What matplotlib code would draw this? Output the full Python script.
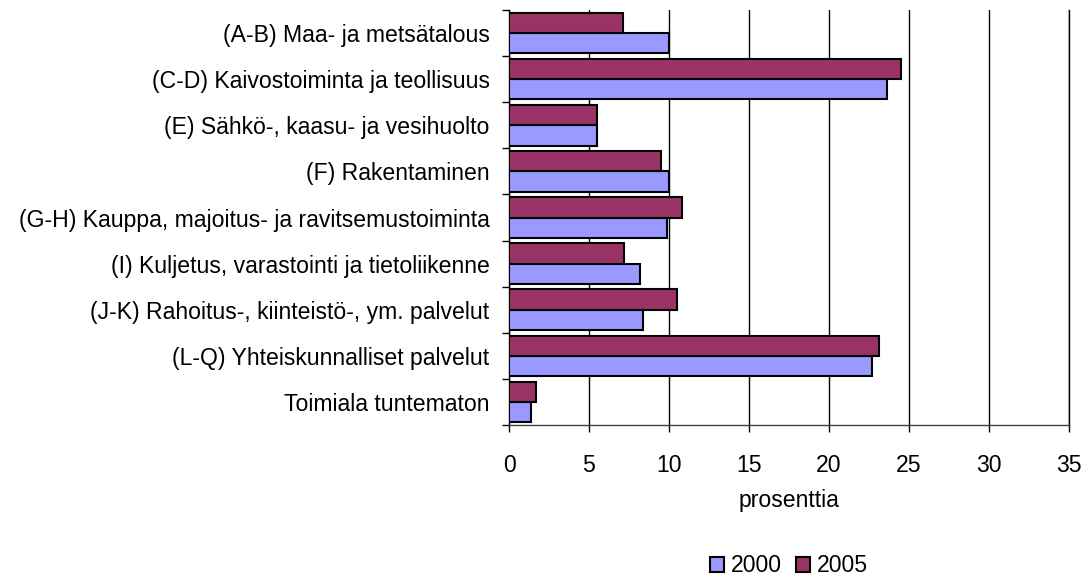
import matplotlib.pyplot as plt
import numpy as np
from matplotlib import rcParams

rcParams.update({"font.family": ["Liberation Sans", "DejaVu Sans"], "font.size": 16.6})

categories = ["(A-B) Maa- ja metsätalous",
              "(C-D) Kaivostoiminta ja teollisuus",
              "(E) Sähkö-, kaasu- ja vesihuolto",
              "(F) Rakentaminen",
              "(G-H) Kauppa, majoitus- ja ravitsemustoiminta",
              "(I) Kuljetus, varastointi ja tietoliikenne",
              "(J-K) Rahoitus-, kiinteistö-, ym. palvelut",
              "(L-Q) Yhteiskunnalliset palvelut",
              "Toimiala tuntematon"]
v2000 = [10.0, 23.6, 5.5, 10.0, 9.9, 8.2, 8.4, 22.7, 1.4]
v2005 = [7.1, 24.5, 5.5, 9.5, 10.8, 7.2, 10.5, 23.1, 1.7]
xticks = [0, 5, 10, 15, 20, 25, 30, 35]

fig = plt.figure(figsize=(10.88, 5.79), dpi=100)
ax = fig.add_axes([509/1088, 1-425/579, 560/1088, 415/579])

n = len(categories)
y = np.arange(n)[::-1]
h = 0.44
ax.barh(y - h/2, v2000, height=h, color='#9999FF', edgecolor='black', linewidth=1.5, label='2000', zorder=3)
ax.barh(y + h/2, v2005, height=h, color='#993366', edgecolor='black', linewidth=1.5, label='2005', zorder=3)

ax.set_xlim(0, 35)
ax.set_ylim(-0.5, n - 0.5)
ax.set_xticks(xticks)
ax.xaxis.grid(True, color='black', linewidth=1, zorder=0)
ax.tick_params(axis='x', length=5, width=1, pad=16, direction='out')

# category labels on minor ticks, boundary tick marks on major
ax.set_yticks(np.arange(n + 1) - 0.5)
ax.set_yticklabels([])
ax.set_yticks(y, minor=True)
ax.set_yticklabels(categories, minor=True)
ax.tick_params(axis='y', which='major', length=5, width=1)
ax.tick_params(axis='y', which='minor', length=0, pad=14)

ax.spines['top'].set_visible(False)
ax.spines['right'].set_linewidth(1)
ax.spines['left'].set_linewidth(1)
ax.spines['bottom'].set_linewidth(1)
ax.spines['bottom'].set_color('#404040')

fig.text(789/1088, 1-507/579, 'prosenttia', ha='center', va='baseline')

fig.legend(loc='center', bbox_to_anchor=(789/1088, 1-566/579), ncol=2, frameon=False,
           handlelength=0.6, handleheight=0.6, handletextpad=0.3, columnspacing=0.6)

plt.savefig('out.png', dpi=100)
